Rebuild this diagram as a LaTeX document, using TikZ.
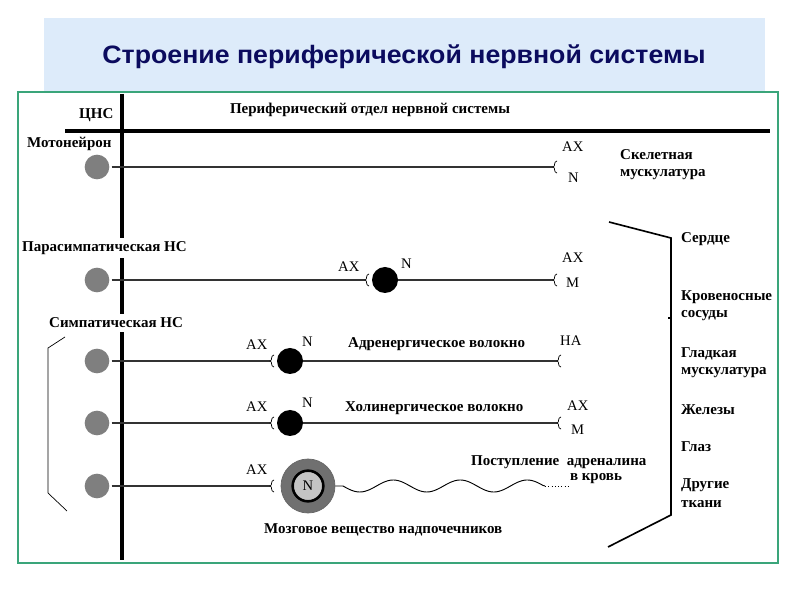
\documentclass[tikz,border=0pt]{standalone}
\usepackage{fontspec}
\setmainfont{Liberation Serif}
\newfontfamily\titlefont{Liberation Sans}
\definecolor{titlebg}{HTML}{DDEBFA}
\definecolor{titleblue}{HTML}{0B0B5E}
\definecolor{framegreen}{HTML}{3AA57A}
\definecolor{neurgrey}{HTML}{7F7F7F}
\definecolor{adrgrey}{HTML}{707070}
\definecolor{lightgrey}{HTML}{C4C4C4}
\begin{document}
\begin{tikzpicture}[x=0.03cm,y=-0.03cm,
  lb/.style={font=\bfseries\fontsize{12.8}{14}\selectfont, inner sep=0pt, anchor=west},
  rg/.style={font=\fontsize{12.5}{14}\selectfont, inner sep=0pt, anchor=west},
  gn/.style={circle, fill=neurgrey, minimum size=0.74cm, inner sep=0pt},
  bn/.style={circle, fill=black, minimum size=0.78cm, inner sep=0pt},
  axon/.style={line width=1pt, draw=black!80},
  bigline/.style={line width=2.6pt, draw=black},
  brk/.style={line width=0.6pt, draw=black},
  brkthick/.style={line width=1.4pt, draw=black},
  syn/.pic={\draw[line width=0.6pt] (4,-6) .. controls (0,-5) and (3,-1) .. (0,0) .. controls (3,1) and (0,5) .. (4,6);}
]
\useasboundingbox (0,0) rectangle (800,600);
% title band and frame
\fill[titlebg] (44,18) rectangle (765,92);
\node[font=\titlefont\bfseries\fontsize{21.5}{24}\selectfont, text=titleblue] (title) at (404,57) {\scalebox{1.06}[1]{Строение периферической нервной системы}};
\fill[white] (18,92) rectangle (778,563);
\draw[framegreen, line width=1pt] (18,92) rectangle (778,563);

% main axes
\coordinate (vt) at (122,94);
\coordinate (vb) at (122,560);
\coordinate (hl) at (65,131);
\coordinate (hr) at (770,131);
\draw[bigline] (vt) -- (vb);
\draw[bigline] (hl) -- (hr);

\node[lb] (cns) at (79,115) {ЦНС};
\node[lb, anchor=center] (periph) at (370,110) {Периферический отдел нервной системы};
\node[lb] (moto) at (27,144) {Мотонейрон};

% row 1: motor neuron
\node[gn] (g1) at (97,167) {};
\coordinate (s1) at (553,167);
\draw[axon] (g1.east) ++(2,0) -- (s1);
\pic at (s1) {syn};
\node[rg] (ax1) at (562,147) {AX};
\node[rg] (n1) at (568,178) {N};
\node[lb] (skel1) at (620,155) {Скелетная};
\node[lb] (skel2) at (620,175) {мускулатура};

% row 2: parasympathetic
\node[lb, fill=white, inner ysep=3pt] (para) at (22,248) {Парасимпатическая НС};
\node[gn] (g2) at (97,280) {};
\node[bn] (b2) at (385,280) {};
\coordinate (s2a) at (365,280);
\coordinate (s2b) at (553,280);
\draw[axon] (g2.east) ++(2,0) -- (s2a);
\pic at (s2a) {syn};
\draw[axon] (b2.east) -- (s2b);
\pic at (s2b) {syn};
\node[rg] (ax2a) at (338,267) {AX};
\node[rg] (n2a) at (401,264) {N};
\node[rg] (ax2b) at (562,258) {AX};
\node[rg] (m2) at (566,283) {M};

% sympathetic label and bracket
\node[lb, fill=white, inner ysep=3pt] (symp) at (49,323) {Симпатическая НС};
\coordinate (lb1) at (65,337);
\coordinate (lb2) at (48,348);
\coordinate (lb3) at (48,493);
\coordinate (lb4) at (67,511);
\draw[brk] (lb1) -- (lb2) -- (lb3) -- (lb4);

% row 3: adrenergic
\node[gn] (g3) at (97,361) {};
\node[bn] (b3) at (290,361) {};
\coordinate (s3a) at (270,361);
\coordinate (s3b) at (557,361);
\draw[axon] (g3.east) ++(2,0) -- (s3a);
\pic at (s3a) {syn};
\draw[axon] (b3.east) -- (s3b);
\pic at (s3b) {syn};
\node[rg] (ax3) at (246,345) {AX};
\node[rg] (n3) at (302,342) {N};
\node[lb] (adrf) at (348,344) {Адренергическое волокно};
\node[rg] (na3) at (560,341) {НА};

% row 4: cholinergic
\node[gn] (g4) at (97,423) {};
\node[bn] (b4) at (290,423) {};
\coordinate (s4a) at (270,423);
\coordinate (s4b) at (557,423);
\draw[axon] (g4.east) ++(2,0) -- (s4a);
\pic at (s4a) {syn};
\draw[axon] (b4.east) -- (s4b);
\pic at (s4b) {syn};
\node[rg] (ax4a) at (246,407) {AX};
\node[rg] (n4) at (302,403) {N};
\node[lb] (cholf) at (345,408) {Холинергическое волокно};
\node[rg] (ax4b) at (567,406) {AX};
\node[rg] (m4) at (571,430) {M};

% row 5: adrenal medulla
\node[gn] (g5) at (97,486) {};
\node[circle, fill=adrgrey, draw=black!60, line width=0.6pt, minimum size=1.62cm, inner sep=0pt] (adr) at (308,486) {};
\node[circle, fill=lightgrey, draw=black, line width=2.2pt, minimum size=0.92cm, inner sep=0pt, font=\fontsize{12.5}{14}\selectfont] (adrn) at (308,486) {N};
\coordinate (s5) at (270,486);
\draw[axon] (g5.east) ++(2,0) -- (s5);
\pic at (s5) {syn};
\node[rg] (ax5) at (246,470) {AX};
\coordinate (wv0) at (343,486);
\coordinate (wv1) at (545,486);
\coordinate (wv2) at (568,486);
\draw[line width=0.8pt] (adr.east) -- (wv0) -- plot[domain=0:200, samples=120] ({343+\x},{486+6*sin(\x*5.373)}) -- (wv1);
\draw[line width=0.8pt, dotted] (wv1) -- (wv2);
\node[lb] (post) at (471,462) {Поступление \ адреналина};
\node[lb, anchor=center] (blood) at (596,479) {в кровь};
\node[lb] (medulla) at (264,530) {Мозговое вещество надпочечников};

% right bracket and targets
\coordinate (rb1) at (609,222);
\coordinate (rb2) at (671,238);
\coordinate (rb3) at (671,515);
\coordinate (rb4) at (608,547);
\coordinate (rbt) at (668,318);
\coordinate (rbm) at (671,318);
\draw[brkthick, line join=miter] (rb1) -- (rb2) -- (rb3) -- (rb4);
\draw[line width=1pt] (rbt) -- (rbm);
\node[lb] (t1) at (681,239) {Сердце};
\node[lb] (t2) at (681,297) {Кровеносные};
\node[lb] (t2b) at (681,316) {сосуды};
\node[lb] (t3) at (681,354) {Гладкая};
\node[lb] (t3b) at (681,373) {мускулатура};
\node[lb] (t4) at (681,410) {Железы};
\node[lb] (t5) at (681,447) {Глаз};
\node[lb] (t6) at (681,485) {Другие};
\node[lb] (t6b) at (681,504) {ткани};
\end{tikzpicture}
\end{document}
